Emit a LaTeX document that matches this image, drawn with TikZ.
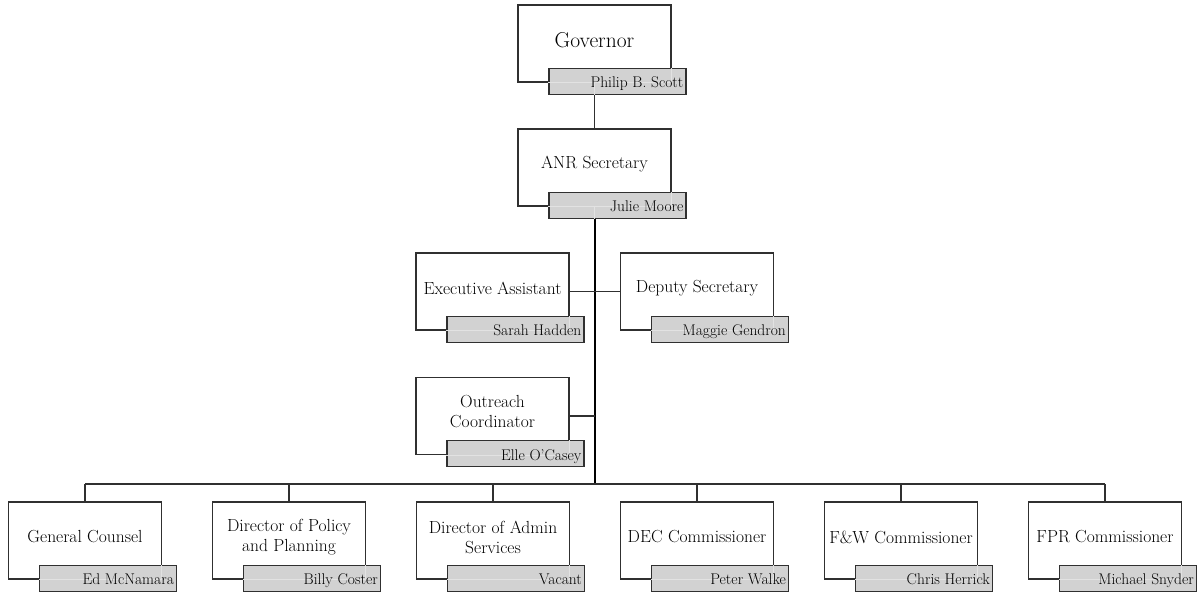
\documentclass[tikz,border=0pt]{standalone}
\usepackage{fontspec}
\definecolor{namegray}{HTML}{D2D2D2}
\definecolor{faint}{HTML}{E2E2E2}
\definecolor{edge}{HTML}{303030}
\tikzset{
  wbox/.style={draw=edge, line width=1.2pt, fill=white, minimum width=153pt, minimum height=77pt, inner sep=0pt},
  ttl/.style={font=\fontsize{17.5}{20}\selectfont, align=center, inner sep=0pt},
  gbox/.style={draw=edge, line width=1.2pt, fill=namegray, minimum width=137pt, minimum height=26pt, inner sep=0pt},
  nm/.style={font=\fontsize{15.5}{17}\selectfont, inner sep=0pt, anchor=base east},
  faintline/.style={draw=faint, line width=0.9pt},
  conn/.style={draw=edge, line width=1.2pt},
  trunk/.style={draw=black, line width=2pt},
}
\begin{document}
\begin{tikzpicture}[x=1pt,y=-1pt]
\useasboundingbox (0,0) rectangle (1199,592);
% boxes
\node[wbox] (gov) at (594.5,43.5) {};
\node[wbox] (anr) at (594.5,167.5) {};
\node[wbox] (exa) at (492.5,291.5) {};
\node[wbox] (dep) at (697,291.5) {};
\node[wbox] (out) at (492.5,416) {};
\node[wbox] (gc)  at (85,540.5) {};
\node[wbox] (dpp) at (289,540.5) {};
\node[wbox] (das) at (493,540.5) {};
\node[wbox] (dec) at (697,540.5) {};
\node[wbox] (fw)  at (901,540.5) {};
\node[wbox] (fpr) at (1105,540.5) {};
% titles
\node[ttl, font=\fontsize{21.5}{24}\selectfont] (gov-t) at (594.5,40) {Governor};
\node[ttl] (anr-t) at (594.5,164) {ANR Secretary};
\node[ttl] (exa-t) at (492.5,288) {Executive Assistant};
\node[ttl] (dep-t) at (697,288) {Deputy Secretary};
\node[ttl] (out-t) at (492.5,412) {Outreach\\Coordinator};
\node[ttl] (gc-t)  at (85,537) {General Counsel};
\node[ttl] (dpp-t) at (289,537) {Director of Policy\\and Planning};
\node[ttl] (das-t) at (493,537) {Director of Admin\\Services};
\node[ttl] (dec-t) at (697,537) {DEC Commissioner};
\node[ttl] (fw-t)  at (901,537) {F\&W Commissioner};
\node[ttl] (fpr-t) at (1105,537) {FPR Commissioner};
% coordinates for connectors
\coordinate (tr-out) at (anr.south |- out.east);
\coordinate (bus-mid) at (594.5,484);
\coordinate (bus-l) at (gc.north |- bus-mid);
\coordinate (bus-r) at (fpr.north |- bus-mid);
% connectors
\draw[conn] (gov.south) -- (anr.north);
\draw[trunk] (anr.south) -- (bus-mid);
\draw[conn] (exa.east) -- (dep.west);
\draw[conn] (out.east) -- (tr-out);
\draw[conn] (bus-l) -- (bus-r);
\foreach \n in {gc,dpp,das,dec,fw,fpr}{
  \draw[conn] (\n.north |- bus-mid) -- (\n.north);
}
% name boxes
\foreach \n/\p in {gov/Philip B. Scott, anr/Julie Moore, exa/Sarah Hadden, dep/Maggie Gendron,
                   out/Elle O’Casey, gc/Ed McNamara, dpp/Billy Coster, das/Vacant,
                   dec/Peter Walke, fw/Chris Herrick, fpr/Michael Snyder}{
  \node[gbox, anchor=north west] (\n-g) at ([xshift=31pt,yshift=15pt]\n.south west) {};
  \draw[faintline] (\n-g.west |- \n.south) -- ([xshift=-0.6pt]\n.south east) -- ([xshift=-0.6pt]\n.south east |- \n-g.north);
  \node[nm] (\n-n) at ([xshift=-3pt,yshift=-6.5pt]\n-g.east) {\p};
}
% faint continuation of connectors through the name boxes
\draw[faintline] (gov.south) -- (gov-g.south -| gov.south);
\draw[faintline] (anr.south) -- (anr-g.south -| anr.south);
\end{tikzpicture}
\end{document}
